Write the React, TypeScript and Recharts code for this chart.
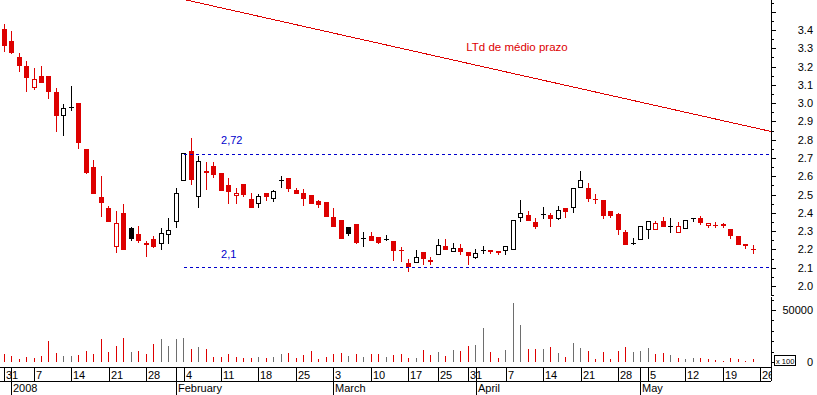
import React from 'react';
import { ComposedChart, Bar, XAxis, YAxis, ReferenceLine } from 'recharts';

const FONT = '"Liberation Sans", Arial, Helvetica, sans-serif';
const RED = '#dd0000';
const VOL_GRAY = '#6e6e6e';
const BLUE = '#0000cc';

const W = 817;
const AXIS_W = 46;
const PLOT_W = W - AXIS_W;
const X_DOMAIN: [number, number] = [0.426, 103.36];
const PRICE_DOMAIN: [number, number] = [1.9453, 3.564];
const VOL_DOMAIN: [number, number] = [-4808, 62500];

// daily candles, 31 Dec 2007 .. late May 2008
const opens = [
  3.406, 3.340, 3.252, 3.203, 3.083, 3.149, 3.149, 3.061, 2.930, 2.979,
  3.001, 2.749, 2.651, 2.487, 2.427, 2.213, 2.399, 2.317, 2.284, 2.235,
  2.257, 2.230, 2.279, 2.350, 2.574, 2.738, 2.487, 2.629, 2.656, 2.618,
  2.552, 2.494, 2.558, 2.476, 2.447, 2.507, 2.477, 2.578, 2.589, 2.525,
  2.507, 2.496, 2.465, 2.459, 2.377, 2.361, 2.323, 2.339, 2.264, 2.275,
  2.268, 2.255, 2.246, 2.195, 2.126, 2.128, 2.186, 2.130, 2.168, 2.219,
  2.188, 2.208, 2.186, 2.155, 2.197, 2.197, 2.191, 2.190, 2.197, 2.370,
  2.388, 2.350, 2.394, 2.388, 2.368, 2.427, 2.428, 2.538, 2.536, 2.477,
  2.470, 2.410, 2.394, 2.295, 2.235, 2.250, 2.305, 2.305, 2.355, 2.330,
  2.292, 2.310, 2.372, 2.372, 2.330, 2.335, 2.339, 2.312, 2.274, 2.228,
  2.203,
];
const highs = [
  3.433, 3.395, 3.274, 3.231, 3.192, 3.203, 3.149, 3.083, 2.995, 3.094,
  3.001, 2.749, 2.689, 2.602, 2.438, 2.410, 2.449, 2.323, 2.328, 2.246,
  2.274, 2.317, 2.372, 2.536, 2.727, 2.809, 2.711, 2.678, 2.678, 2.618,
  2.591, 2.536, 2.558, 2.507, 2.503, 2.507, 2.525, 2.602, 2.589, 2.536,
  2.531, 2.496, 2.472, 2.459, 2.427, 2.361, 2.323, 2.339, 2.295, 2.297,
  2.268, 2.279, 2.246, 2.213, 2.148, 2.197, 2.186, 2.157, 2.257, 2.257,
  2.235, 2.230, 2.186, 2.202, 2.217, 2.197, 2.191, 2.217, 2.359, 2.470,
  2.410, 2.372, 2.432, 2.399, 2.438, 2.427, 2.534, 2.629, 2.563, 2.503,
  2.470, 2.410, 2.399, 2.306, 2.263, 2.327, 2.355, 2.355, 2.377, 2.372,
  2.350, 2.359, 2.372, 2.383, 2.343, 2.350, 2.345, 2.312, 2.274, 2.228,
  2.226,
];
const lows = [
  3.280, 3.269, 3.170, 3.061, 3.072, 3.108, 3.023, 2.842, 2.820, 2.957,
  2.749, 2.613, 2.503, 2.377, 2.350, 2.181, 2.197, 2.246, 2.235, 2.159,
  2.208, 2.197, 2.230, 2.317, 2.574, 2.555, 2.424, 2.525, 2.592, 2.521,
  2.450, 2.450, 2.488, 2.428, 2.428, 2.465, 2.461, 2.538, 2.516, 2.505,
  2.439, 2.450, 2.428, 2.379, 2.324, 2.259, 2.275, 2.231, 2.215, 2.248,
  2.230, 2.246, 2.137, 2.131, 2.077, 2.128, 2.115, 2.115, 2.168, 2.199,
  2.188, 2.170, 2.115, 2.148, 2.173, 2.177, 2.171, 2.171, 2.197, 2.348,
  2.357, 2.312, 2.366, 2.323, 2.361, 2.374, 2.398, 2.538, 2.461, 2.450,
  2.368, 2.374, 2.281, 2.226, 2.226, 2.250, 2.259, 2.305, 2.324, 2.292,
  2.292, 2.310, 2.348, 2.335, 2.319, 2.319, 2.319, 2.259, 2.226, 2.201,
  2.177,
];
const closes = [
  3.313, 3.274, 3.203, 3.138, 3.132, 3.110, 3.061, 2.930, 2.974, 2.979,
  2.782, 2.618, 2.503, 2.454, 2.350, 2.345, 2.197, 2.257, 2.246, 2.224,
  2.213, 2.290, 2.306, 2.509, 2.727, 2.580, 2.686, 2.620, 2.609, 2.521,
  2.516, 2.507, 2.499, 2.428, 2.491, 2.488, 2.518, 2.578, 2.529, 2.505,
  2.477, 2.450, 2.445, 2.379, 2.324, 2.259, 2.286, 2.237, 2.264, 2.248,
  2.235, 2.255, 2.193, 2.192, 2.104, 2.157, 2.149, 2.144, 2.226, 2.199,
  2.208, 2.188, 2.164, 2.179, 2.197, 2.188, 2.182, 2.217, 2.359, 2.399,
  2.357, 2.323, 2.394, 2.368, 2.414, 2.405, 2.534, 2.578, 2.477, 2.475,
  2.385, 2.385, 2.308, 2.226, 2.235, 2.327, 2.355, 2.345, 2.324, 2.330,
  2.327, 2.359, 2.372, 2.346, 2.343, 2.333, 2.327, 2.275, 2.226, 2.220,
  2.202,
];
// volume, in hundreds
const volumes = [
  7700, 5800, 2600, 4500, 3500, 5800, 20200, 8700, 5800, 5800,
  6700, 10600, 7700, 22100, 9600, 15400, 23100, 9600, 10600, 7700,
  17300, 22100, 15400, 22100, 23100, 12500, 14400, 12500, 4800, 4800,
  7700, 4800, 3800, 3800, 4800, 3800, 4800, 7700, 8700, 3800,
  6700, 10600, 2900, 4800, 7700, 8700, 5800, 7700, 4800, 7700,
  7700, 4800, 6700, 7700, 3800, 3400, 11500, 6700, 9600, 5800,
  11500, 10600, 15400, 16300, 32700, 9600, 3800, 11500, 56700, 35600,
  12500, 12500, 12500, 14400, 8700, 4800, 18300, 13500, 10600, 2900,
  9600, 2900, 10600, 14400, 9600, 10600, 13500, 7700, 8700, 6700,
  3800, 2900, 3800, 3800, 2900, 1900, 1000, 3800, 2900, 1000,
  2900,
];

// week ticks; the "31" labels run across the next (unlabelled) tick line
const dayTicks = [1, 2, 5, 10, 15, 20, 25, 30, 35, 40, 45, 50, 55, 59, 63, 64, 68, 73, 78, 83, 87, 92, 97, 102];
const dayLabels = ['31', '', '7', '14', '21', '28', '4', '11', '18', '25', '3', '10', '17', '25', '31', '', '7', '14', '21', '28', '5', '12', '19', '26'];
const monthTicks = [2, 24, 45, 64, 86];
const monthLabels = ['2008', 'February', 'March', 'April', 'May'];

const priceTicks = [
  1.95, 2.0, 2.05, 2.1, 2.15, 2.2, 2.25, 2.3, 2.35, 2.4, 2.45, 2.5, 2.55, 2.6, 2.65, 2.7, 2.75,
  2.8, 2.85, 2.9, 2.95, 3.0, 3.05, 3.1, 3.15, 3.2, 3.25, 3.3, 3.35, 3.4, 3.45, 3.5, 3.55,
];
const priceLabelMax = 3.4;
const volTicks = [0, 10000, 20000, 30000, 40000, 50000, 60000];

const resistance = 2.72;
const support = 2.1;
const levelStart = 25;
const ltd = [{ x: 25.3, y: 3.564 }, { x: 103.36, y: 2.845 }];

const candles = opens.map((o, k) => ({
  i: k + 1,
  o,
  h: highs[k],
  l: lows[k],
  c: closes[k],
  v: volumes[k],
  up: k > 0 && closes[k] > closes[k - 1],
}));

function Candle(props: any) {
  const { x, y, width, height, payload } = props;
  const { o, h, l, c, up } = payload;
  const col = up ? '#000' : RED;
  const top0 = Math.min(y, y + height);
  const H = Math.abs(height);
  const k = h > l ? H / (h - l) : 0;
  const yOf = (v: number) => top0 + (h - v) * k;
  const cx = Math.floor(x + width / 2);
  const wTop = Math.round(top0);
  const wBot = Math.round(top0 + H);
  const top = Math.round(yOf(Math.max(o, c)));
  const bot = Math.round(yOf(Math.min(o, c)));
  let body;
  if (bot - top < 1) {
    body = <rect x={cx - 2} y={top} width={5} height={1} fill={col} />;
  } else if (c > o) {
    body = (
      <rect x={cx - 1.5} y={top + 0.5} width={4} height={Math.max(0, bot - top - 1)} fill="#fff" stroke={col} strokeWidth={1} />
    );
  } else {
    body = <rect x={cx - 2} y={top} width={5} height={bot - top} fill={col} />;
  }
  return (
    <g shapeRendering="crispEdges">
      <rect x={cx} y={wTop} width={1} height={Math.max(1, wBot - wTop)} fill={col} />
      {body}
    </g>
  );
}

function VolBar(props: any) {
  const { x, y, width, height, payload } = props;
  const t = Math.round(Math.min(y, y + height));
  const b = Math.round(Math.max(y, y + height));
  return (
    <rect x={Math.floor(x + width / 2)} y={t} width={1} height={Math.max(0, b - t)} fill={payload.up ? VOL_GRAY : RED} shapeRendering="crispEdges" />
  );
}

function PriceTick(props: any) {
  const { x, y, payload } = props;
  const v = payload.value;
  const major = Math.abs(v * 10 - Math.round(v * 10)) < 1e-6;
  const yi = Math.round(y);
  return (
    <g>
      <rect x={x} y={yi} width={major ? 5 : 3} height={1} fill="#000" />
      {major && v <= priceLabelMax + 1e-6 && (
        <text x={x + 42} y={yi + 4} textAnchor="end" fontSize={11} fontFamily={FONT} fill="#000">
          {v.toFixed(1)}
        </text>
      )}
    </g>
  );
}

function VolTick(props: any) {
  const { x, y, payload } = props;
  const v = payload.value;
  const yi = Math.round(y);
  const major = v === 0 || v === 50000;
  return (
    <g>
      <rect x={x} y={yi} width={major ? 5 : 3} height={1} fill="#000" />
      {major && (
        <text x={x + 42} y={yi + 4} textAnchor="end" fontSize={11} fontFamily={FONT} fill="#000">
          {v}
        </text>
      )}
      {v === 0 && (
        <g>
          <rect x={x + 3.5} y={yi - 6.5} width={21} height={10} fill="#fff" stroke="#000" shapeRendering="crispEdges" />
          <text x={x + 5} y={yi + 1.5} fontSize={7.5} fontFamily={FONT} fill="#000">x 100</text>
        </g>
      )}
    </g>
  );
}

function DayTick(props: any) {
  const { x, y, payload } = props;
  const k = dayTicks.indexOf(payload.value);
  const xi = Math.floor(x);
  const last = k === dayTicks.length - 1;
  const w = last ? Math.max(0, PLOT_W - xi - 1) : 30;
  return (
    <g>
      <rect x={xi} y={y} width={1} height={14} fill="#000" />
      {dayLabels[k] && (
        <svg x={xi + 1} y={y} width={w} height={14} overflow="hidden">
          <text x={1} y={12} fontSize={11} fontFamily={FONT} fill="#000">{dayLabels[k]}</text>
        </svg>
      )}
      {last && <rect x={PLOT_W} y={y} width={1} height={14} fill="#000" />}
    </g>
  );
}

function MonthTick(props: any) {
  const { x, y, payload } = props;
  const k = monthTicks.indexOf(payload.value);
  const xi = Math.floor(x);
  return (
    <g>
      <rect x={xi} y={y - 14} width={1} height={28} fill="#000" />
      <text x={xi + 2} y={y + 11} fontSize={11} fontFamily={FONT} fill="#000">{monthLabels[k]}</text>
    </g>
  );
}

const levelLabel = (txt: string) => (p: any) => {
  const vb = p.viewBox || {};
  return (
    <text x={(vb.x || 0) + 37} y={(vb.y || 0) - 10} fontSize={11} fontFamily={FONT} fill={BLUE}>{txt}</text>
  );
};

const ltdLabel = (p: any) => {
  const vb = p.viewBox || {};
  return (
    <text x={(vb.x || 0) + 280} y={(vb.y || 0) + 51} fontSize={11.5} fontFamily={FONT} fill={RED}>LTd de médio prazo</text>
  );
};

const axisLine = { stroke: '#000', shapeRendering: 'crispEdges' } as any;

export default function App() {
  return (
    <div style={{ position: 'absolute', left: 0, top: 0, width: W, height: 395, background: '#fff' }}>
      <ComposedChart width={W} height={297} data={candles} margin={{ top: 0, right: 0, bottom: 1, left: 0 }}>
        <XAxis dataKey="i" type="number" domain={X_DOMAIN} allowDataOverflow height={0} tick={false} tickLine={false} axisLine={axisLine} />
        <YAxis
          orientation="right"
          width={AXIS_W}
          type="number"
          domain={PRICE_DOMAIN}
          allowDataOverflow
          ticks={priceTicks}
          interval={0}
          tickLine={false}
          tickSize={0}
          tickMargin={0}
          tick={PriceTick}
          axisLine={axisLine}
        />
        <ReferenceLine
          segment={[{ x: levelStart, y: resistance }, { x: X_DOMAIN[1], y: resistance }]}
          stroke={BLUE}
          strokeDasharray="3 3"
          shapeRendering="crispEdges"
          ifOverflow="visible"
          label={levelLabel('2,72')}
        />
        <ReferenceLine
          segment={[{ x: levelStart, y: support }, { x: X_DOMAIN[1], y: support }]}
          stroke={BLUE}
          strokeDasharray="3 3"
          shapeRendering="crispEdges"
          ifOverflow="visible"
          label={levelLabel('2,1')}
        />
        <ReferenceLine
          segment={ltd}
          stroke={RED}
          shapeRendering="crispEdges"
          ifOverflow="visible"
          label={ltdLabel}
        />
        <Bar dataKey={(d: any) => [d.l, d.h]} shape={Candle} barSize={5} isAnimationActive={false} />
      </ComposedChart>
      <ComposedChart width={W} height={98} data={candles} margin={{ top: 0, right: 0, bottom: 0, left: 0 }}>
        <XAxis
          xAxisId="d"
          dataKey="i"
          type="number"
          domain={X_DOMAIN}
          allowDataOverflow
          height={14}
          ticks={dayTicks}
          interval={0}
          tickLine={false}
          tickSize={0}
          tickMargin={0}
          tick={DayTick}
          axisLine={axisLine}
        />
        <XAxis
          xAxisId="m"
          dataKey="i"
          type="number"
          domain={X_DOMAIN}
          allowDataOverflow
          height={14}
          ticks={monthTicks}
          interval={0}
          tickLine={false}
          tickSize={0}
          tickMargin={0}
          tick={MonthTick}
          axisLine={axisLine}
        />
        <YAxis
          orientation="right"
          width={AXIS_W}
          type="number"
          domain={VOL_DOMAIN}
          allowDataOverflow
          ticks={volTicks}
          interval={0}
          tickLine={false}
          tickSize={0}
          tickMargin={0}
          tick={VolTick}
          axisLine={axisLine}
        />
        <Bar xAxisId="d" dataKey="v" shape={VolBar} barSize={1} isAnimationActive={false} />
      </ComposedChart>
    </div>
  );
}
